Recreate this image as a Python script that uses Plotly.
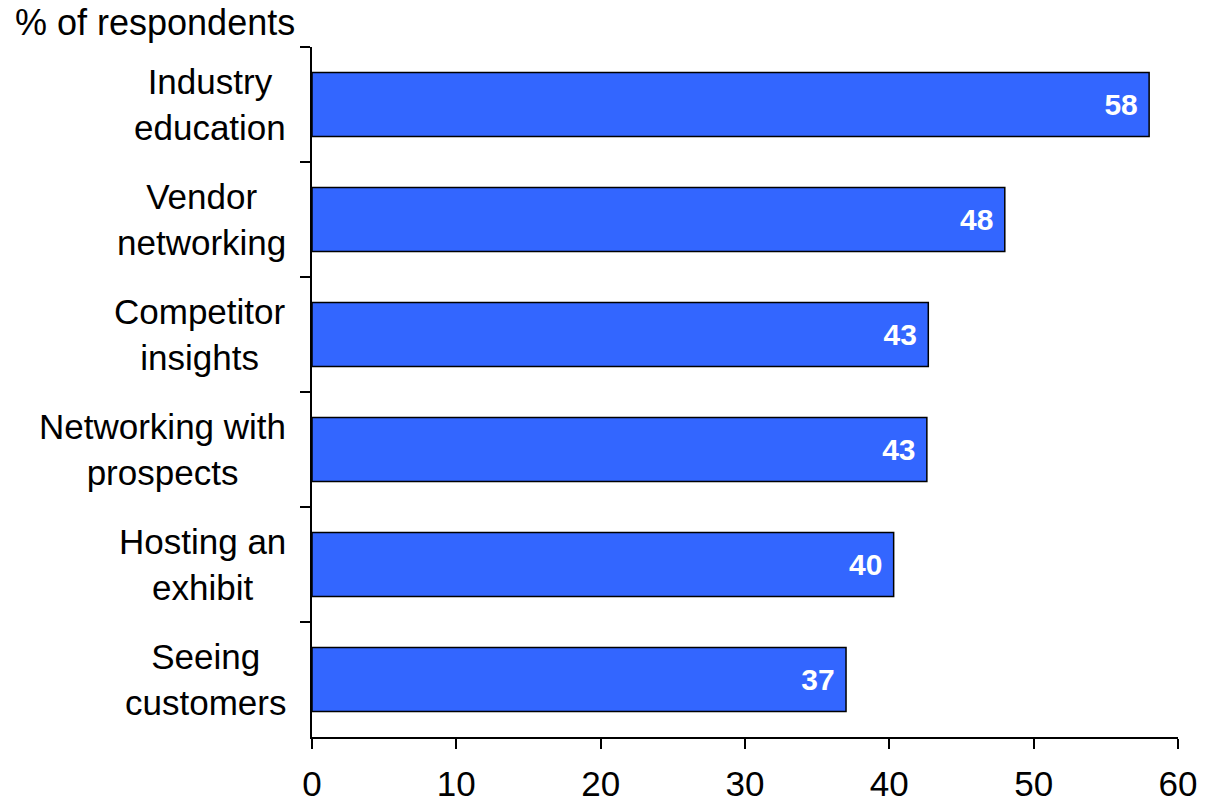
import plotly.graph_objects as go

# Survey results: share of respondents citing each reason
categories = [
    "Industry<br>education",
    "Vendor<br>networking",
    "Competitor<br>insights",
    "Networking with<br>prospects",
    "Hosting an<br>exhibit",
    "Seeing<br>customers",
]
values = [58.0, 48.0, 42.7, 42.6, 40.3, 37.0]
x_ticks = [0, 10, 20, 30, 40, 50, 60]

FONT = "Liberation Sans, Arial, sans-serif"
BAR_COLOR = "#3366FF"

fig = go.Figure(
    go.Bar(
        x=values,
        y=categories,
        orientation="h",
        marker=dict(color=BAR_COLOR, line=dict(color="black", width=1.5)),
        texttemplate="%{x:.0f}\u00a0",
        textposition="inside",
        insidetextanchor="end",
        textfont=dict(family=FONT, size=30, color="white", weight="bold"),
        cliponaxis=False,
    )
)

# Category labels drawn as centred two-line annotations left of the axis
annotations = [
    dict(
        x=0, xref="paper", y=c, yref="y",
        text=c, showarrow=False, xanchor="right", yanchor="middle",
        align="center", xshift=-24,
        font=dict(family=FONT, size=35, color="black"),
    )
    for c in categories
]
annotations.append(
    dict(
        x=0, xref="paper", y=1, yref="paper",
        text="% of respondents", showarrow=False,
        xanchor="right", yanchor="middle", xshift=-15, yshift=25,
        font=dict(family=FONT, size=36, color="black"),
    )
)

fig.update_layout(
    width=1215,
    height=803,
    margin=dict(l=312, r=37, t=47, b=66),
    paper_bgcolor="white",
    plot_bgcolor="white",
    bargap=0.443,
    showlegend=False,
    annotations=annotations,
    xaxis=dict(
        range=[0, 60],
        tickvals=x_ticks,
        ticks="outside",
        ticklen=10,
        tickwidth=1.5,
        tickcolor="black",
        ticklabelstandoff=5,
        automargin=False,
        showline=True,
        linecolor="black",
        linewidth=1.5,
        showgrid=False,
        zeroline=False,
        tickfont=dict(family=FONT, size=35, color="black"),
    ),
    yaxis=dict(
        type="category",
        categoryorder="array",
        categoryarray=categories,
        autorange="reversed",
        tickson="boundaries",
        ticks="outside",
        ticklen=10,
        tickwidth=1.5,
        tickcolor="black",
        showticklabels=False,
        automargin=False,
        showline=True,
        linecolor="black",
        linewidth=1.5,
        showgrid=False,
        zeroline=False,
    ),
)

fig.write_html("out.html")
